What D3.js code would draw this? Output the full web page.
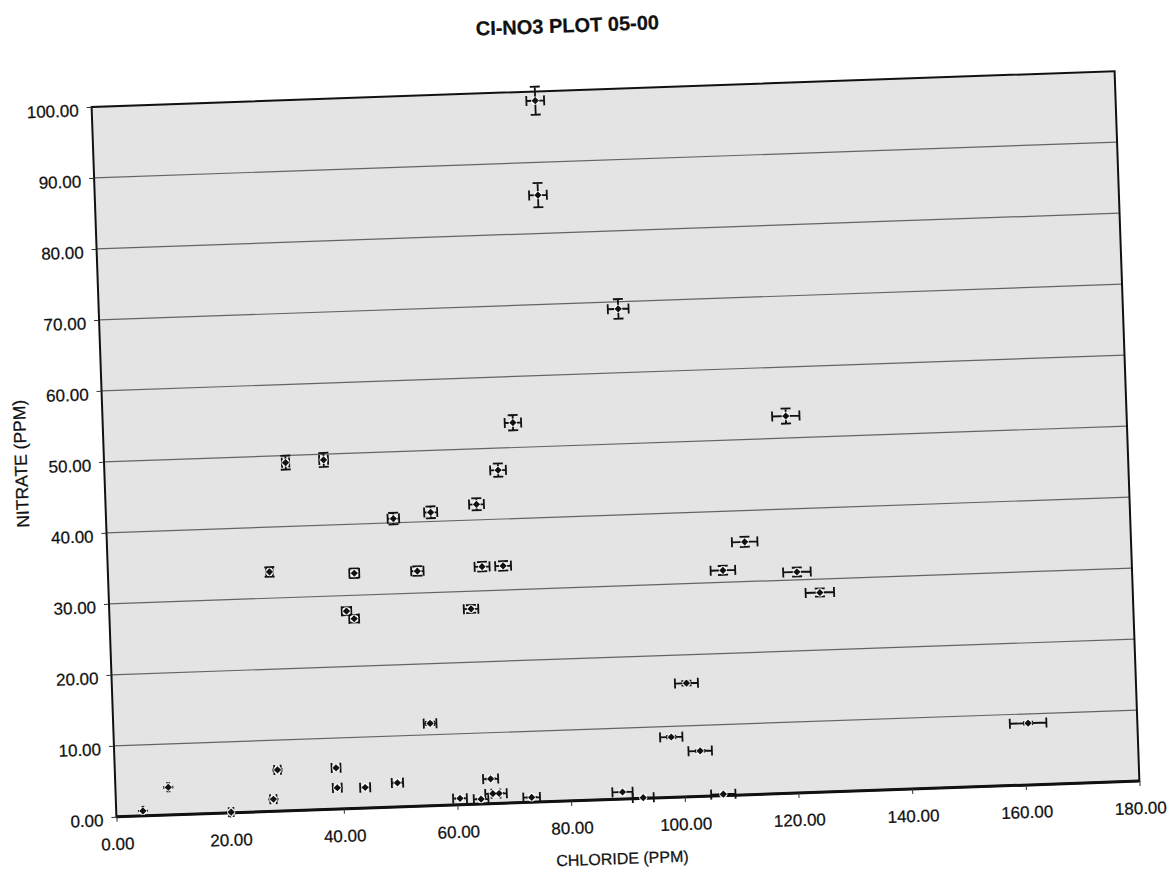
<!DOCTYPE html>
<html>
<head>
<meta charset="utf-8">
<script src="https://cdn.jsdelivr.net/npm/d3@7/dist/d3.min.js"></script>
<style>
body { margin: 0; background: #fff; }
text { font-family: "Liberation Sans", Arial, sans-serif; fill: #111; stroke: #111; stroke-width: 0.25px; }
</style>
</head>
<body>
<div id="chart"></div>
<script>
// values (chloride ppm, nitrate ppm)
var chloride = [78.0, 77.9, 91.3, 72.1, 120.1, 31.9, 38.6, 69.2, 50.5, 57.1,
                65.2, 112.1, 28.4, 43.3, 54.4, 65.8, 69.5, 108.1, 121.1, 125.0,
                41.7, 43.0, 63.6, 101.0, 55.7, 160.8, 98.0, 103.0, 9.3, 4.7,
                20.2, 28.6, 27.7, 38.9, 39.0, 43.9, 49.6, 66.0, 60.5, 64.2,
                66.3, 67.4, 73.1, 89.1, 92.7, 106.8];
var nitrate  = [98.7, 85.4, 69.0, 53.5, 53.1, 49.0, 49.2, 46.9, 40.6, 41.3,
                42.2, 35.6, 33.7, 33.1, 33.1, 33.4, 33.4, 31.7, 31.1, 28.1,
                27.8, 26.7, 27.5, 16.0, 11.6, 8.7, 8.5, 6.4, 3.9, 0.7,
                0.1, 5.8, 1.7, 5.8, 3.0, 2.9, 3.4, 3.5, 0.9, 0.7,
                1.4, 1.4, 0.7, 1.0, 0.1, 0.2];
var xTicks = [0, 20, 40, 60, 80, 100, 120, 140, 160, 180];
var yTicks = [0, 10, 20, 30, 40, 50, 60, 70, 80, 90, 100];
var errPct = 0.02;   // percentage error bars, both directions

var width = 1175, height = 870;
var plotLeft = 103.7, plotTop = 88.85, plotW = 1023.6, plotH = 710.3;
var fmt = d3.format(".2f");

var svg = d3.select("#chart").append("svg")
    .attr("width", width)
    .attr("height", height);

// the scanned page sits a little crooked
var g = svg.append("g").attr("transform", "rotate(-2,615.5,444)");

var x = d3.scaleLinear().domain([0, 180]).range([plotLeft, plotLeft + plotW]);
var y = d3.scaleLinear().domain([0, 100]).range([plotTop + plotH, plotTop]);

g.append("rect")
    .attr("x", plotLeft).attr("y", plotTop)
    .attr("width", plotW).attr("height", plotH)
    .attr("fill", "#e4e4e4");

g.selectAll(".grid")
    .data(yTicks.slice(1, -1))
    .enter().append("line")
    .attr("class", "grid")
    .attr("x1", plotLeft).attr("x2", plotLeft + plotW)
    .attr("y1", function(d) { return y(d); })
    .attr("y2", function(d) { return y(d); })
    .attr("stroke", "#646464")
    .attr("stroke-width", 1.2);

g.append("rect")
    .attr("x", plotLeft).attr("y", plotTop)
    .attr("width", plotW).attr("height", plotH)
    .attr("fill", "none")
    .attr("stroke", "#111")
    .attr("stroke-width", 2);

g.append("line")
    .attr("x1", plotLeft).attr("x2", plotLeft + plotW)
    .attr("y1", plotTop + plotH).attr("y2", plotTop + plotH)
    .attr("stroke", "#111").attr("stroke-width", 3);

var yAxis = g.append("g")
    .attr("transform", "translate(" + plotLeft + ",0)")
    .call(d3.axisLeft(y).tickValues(yTicks).tickFormat(fmt).tickSize(5).tickPadding(8));
yAxis.select(".domain").remove();
yAxis.selectAll("line").attr("stroke", "#333");
yAxis.selectAll("text").attr("font-size", 17).attr("dy", "0.5em")
    .style("font-family", "'Liberation Sans', Arial, sans-serif").attr("fill", "#111");

var xAxis = g.append("g")
    .attr("transform", "translate(0," + (plotTop + plotH) + ")")
    .call(d3.axisBottom(x).tickValues(xTicks).tickFormat(fmt).tickSize(5).tickPadding(16));
xAxis.select(".domain").remove();
xAxis.selectAll("line").attr("stroke", "#333");
xAxis.selectAll("text").attr("font-size", 17)
    .style("font-family", "'Liberation Sans', Arial, sans-serif").attr("fill", "#111");

var pts = chloride.map(function(c, i) { return {c: c, n: nitrate[i]}; });
var cap = 5;

var eb = g.selectAll(".eb")
    .data(pts)
    .enter().append("g")
    .attr("class", "eb")
    .attr("stroke", "#111")
    .attr("stroke-width", 1.8);

eb.append("path").attr("d", function(d) {
    var x0 = x(d.c - d.c * errPct), x1 = x(d.c + d.c * errPct), yy = y(d.n);
    return "M" + x0 + "," + yy + "H" + x1 +
           "M" + x0 + "," + (yy - cap) + "V" + (yy + cap) +
           "M" + x1 + "," + (yy - cap) + "V" + (yy + cap);
}).attr("fill", "none");

eb.append("path").attr("d", function(d) {
    var y0 = y(d.n - d.n * errPct), y1 = y(d.n + d.n * errPct), xx = x(d.c);
    return "M" + xx + "," + y0 + "V" + y1 +
           "M" + (xx - cap) + "," + y0 + "H" + (xx + cap) +
           "M" + (xx - cap) + "," + y1 + "H" + (xx + cap);
}).attr("fill", "none");

g.selectAll(".halo")
    .data(pts)
    .enter().append("circle")
    .attr("class", "halo")
    .attr("cx", function(d) { return x(d.c); })
    .attr("cy", function(d) { return y(d.n); })
    .attr("r", 4.2)
    .attr("fill", "#fff")
    .attr("opacity", 0.85);

g.selectAll(".mark")
    .data(pts)
    .enter().append("path")
    .attr("class", "mark")
    .attr("transform", function(d) { return "translate(" + x(d.c) + "," + y(d.n) + ")"; })
    .attr("d", "M0,-3.6L3.6,0L0,3.6L-3.6,0Z")
    .attr("fill", "#111");

g.append("text")
    .attr("x", 582).attr("y", 31)
    .attr("text-anchor", "middle")
    .attr("font-size", 20)
    .attr("font-weight", "bold")
    .text("CI-NO3 PLOT 05-00");

g.append("text")
    .attr("x", 608).attr("y", 864)
    .attr("text-anchor", "middle")
    .attr("font-size", 16)
    .text("CHLORIDE (PPM)");

g.append("text")
    .attr("transform", "translate(26.6,443) rotate(-90)")
    .attr("text-anchor", "middle")
    .attr("font-size", 17.5)
    .text("NITRATE (PPM)");
</script>
</body>
</html>
